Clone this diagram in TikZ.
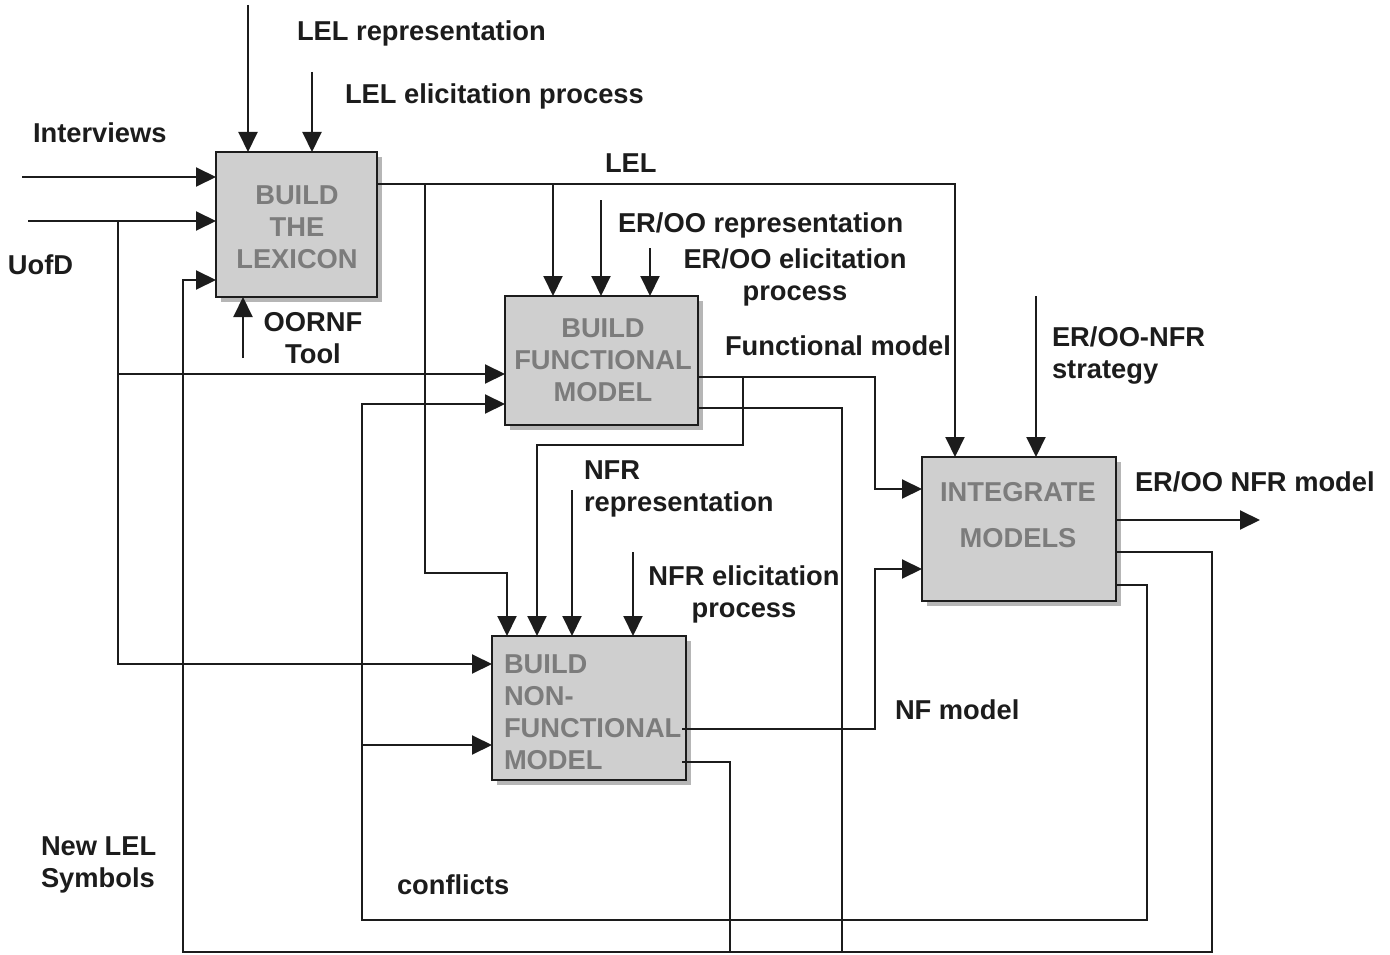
\documentclass[tikz,border=0pt]{standalone}
\usepackage{fontspec}
\setmainfont{Liberation Sans}
\usetikzlibrary{arrows.meta,shadows,calc}
\definecolor{ink}{HTML}{1C1C1C}
\definecolor{boxfill}{HTML}{CFCFCF}
\definecolor{boxtext}{HTML}{7C7C7C}
\definecolor{shade}{HTML}{B6B6B6}
\begin{document}
\begin{tikzpicture}[x=1pt,y=-1pt,
  lbl/.style={inner sep=0pt, outer sep=0pt, text=ink, font=\bfseries\fontsize{27.3}{32}\selectfont},
  boxtxt/.style={inner sep=0pt, outer sep=0pt, text=boxtext, font=\bfseries\fontsize{27.3}{32}\selectfont},
  activity/.style={draw=ink, line width=2.5pt, fill=boxfill, inner sep=0pt, outer sep=0pt,
    drop shadow={shadow xshift=5pt, shadow yshift=-5pt, fill=shade, opacity=1}},
  ln/.style={draw=ink, line width=2pt},
  arr/.style={ln, -{Triangle[length=20pt,width=19pt]}},
]
\useasboundingbox (0,0) rectangle (1390,955);

% activity boxes
\node[activity, minimum width=161pt, minimum height=145pt] (lex) at (296.5,224.5) {};
\node[activity, minimum width=193pt, minimum height=129pt] (fun) at (601.5,360.5) {};
\node[activity, minimum width=194pt, minimum height=144pt] (nfr) at (589,708) {};
\node[activity, minimum width=194pt, minimum height=144pt] (int) at (1019,529) {};

% box captions
\node[boxtxt, align=center, anchor=north] (lexT) at (297,186) {BUILD\\THE\\LEXICON};
\node[boxtxt, align=center, anchor=north] (funT) at (603,319) {BUILD\\FUNCTIONAL\\MODEL};
\node[boxtxt, align=left, anchor=north west] (nfrT) at (504,655) {BUILD\\NON-\\FUNCTIONAL\\MODEL};
\node[boxtxt, align=center, anchor=north, font=\bfseries\fontsize{27.3}{46}\selectfont] (intT) at (1018,482) {INTEGRATE\\MODELS};

% ports on the boxes
\coordinate (lexIn1) at ($(lex.north west)+(0,25)$);
\coordinate (lexIn2) at ($(lex.north west)+(0,69)$);
\coordinate (lexIn3) at ($(lex.north west)+(0,128)$);
\coordinate (lexTop1) at ($(lex.north west)+(32,0)$);
\coordinate (lexTop2) at ($(lex.north west)+(96,0)$);
\coordinate (lexBot) at ($(lex.south west)+(27,0)$);
\coordinate (lexOut) at ($(lex.north east)+(0,32)$);

\coordinate (funTop1) at ($(fun.north west)+(48,0)$);
\coordinate (funTop2) at ($(fun.north west)+(96,0)$);
\coordinate (funTop3) at ($(fun.north west)+(145,0)$);
\coordinate (funIn1) at ($(fun.north west)+(0,78)$);
\coordinate (funIn2) at ($(fun.north west)+(0,108)$);
\coordinate (funOut1) at ($(fun.north east)+(0,81)$);
\coordinate (funOut2) at ($(fun.north east)+(0,112)$);

\coordinate (nfrTop1) at ($(nfr.north west)+(15,0)$);
\coordinate (nfrTop2) at ($(nfr.north west)+(45,0)$);
\coordinate (nfrTop3) at ($(nfr.north west)+(80,0)$);
\coordinate (nfrTop4) at ($(nfr.north west)+(141,0)$);
\coordinate (nfrIn1) at ($(nfr.north west)+(0,28)$);
\coordinate (nfrIn2) at ($(nfr.north west)+(0,109)$);
\coordinate (nfrOut1) at ($(nfr.north east)+(-4,93)$);
\coordinate (nfrOut2) at ($(nfr.north east)+(-4,126)$);

\coordinate (intTop1) at ($(int.north west)+(33,0)$);
\coordinate (intTop2) at ($(int.north west)+(114,0)$);
\coordinate (intIn1) at ($(int.north west)+(0,32)$);
\coordinate (intIn2) at ($(int.north west)+(0,112)$);
\coordinate (intOut1) at ($(int.north east)+(0,63)$);
\coordinate (intOut2) at ($(int.north east)+(0,95)$);
\coordinate (intOut3) at ($(int.north east)+(0,128)$);

% free ends, junctions and bends
\coordinate (interviews) at (22,177);
\coordinate (uofd) at (28,221);
\coordinate (uofdSplit) at (118,221);
\coordinate (lelRep) at (248,5);
\coordinate (lelElic) at (312,72);
\coordinate (oornf) at (243,358);
\coordinate (erooRep) at (601,200);
\coordinate (erooElic) at (650,248);
\coordinate (nfrRep) at (572,490);
\coordinate (nfrElic) at (633,552);
\coordinate (strategy) at (1036,296);
\coordinate (nfrModelEnd) at (1260,520);
\coordinate (lelSplit) at (425,184);
\coordinate (lelBend) at (425,573);
\coordinate (modelX) at (875,0);
\coordinate (fmSplit) at (743,377);
\coordinate (fmBack) at (743,445);
\coordinate (newLelR) at (1212,952);
\coordinate (newLelL) at (183,952);
\coordinate (funDrop) at (842,952);
\coordinate (nfrDrop) at (730,952);
\coordinate (confR) at (1147,920);
\coordinate (confL) at (362,920);

% inputs of BUILD THE LEXICON
\draw[arr] (interviews) -- (lexIn1);
\draw[arr] (uofd) -- (lexIn2);
\draw[arr] (lelRep) -- (lexTop1);
\draw[arr] (lelElic) -- (lexTop2);
\draw[arr] (oornf) -- (lexBot);

% UofD fed to the two model builders
\draw[arr] (uofdSplit) |- (funIn1);
\draw[arr] (uofdSplit) |- (nfrIn1);

% LEL output
\draw[arr] (lexOut) -| (intTop1);
\draw[arr] (lexOut -| funTop1) -- (funTop1);
\draw[arr] (lelSplit) -- (lelBend) -| (nfrTop1);

% controls of the functional builder
\draw[arr] (erooRep) -- (funTop2);
\draw[arr] (erooElic) -- (funTop3);

% functional model
\draw[arr] (funOut1) -- (funOut1 -| modelX) |- (intIn1);
\draw[arr] (fmSplit) -- (fmBack) -| (nfrTop2);

% controls of the non-functional builder
\draw[arr] (nfrRep) -- (nfrTop3);
\draw[arr] (nfrElic) -- (nfrTop4);

% NF model
\draw[arr] (nfrOut1) -- (nfrOut1 -| modelX) |- (intIn2);

% integration strategy and final output
\draw[arr] (strategy) -- (intTop2);
\draw[arr] (intOut1) -- (nfrModelEnd);

% new LEL symbols fed back to the lexicon
\draw[arr] (intOut2) -| (newLelR) -- (newLelL) |- (lexIn3);
\draw[ln] (funOut2) -| (funDrop);
\draw[ln] (nfrOut2) -| (nfrDrop);

% conflicts fed back to the model builders
\draw[arr] (intOut3) -| (confR) -- (confL) |- (funIn2);
\draw[arr] (confL |- nfrIn2) -- (nfrIn2);

% labels
\node[lbl, anchor=base west] (lLelRep) at (297,41) {LEL representation};
\node[lbl, anchor=base west] (lLelElic) at (345,104) {LEL elicitation process};
\node[lbl, anchor=base west] (lInterviews) at (33,143) {Interviews};
\node[lbl, anchor=base west] (lUofd) at (8,274) {UofD};
\node[lbl, align=center, anchor=north] (lOornf) at (313,312) {OORNF\\Tool};
\node[lbl, anchor=base west] (lLel) at (605,172) {LEL};
\node[lbl, anchor=base west] (lErooRep) at (618,233) {ER/OO representation};
\node[lbl, align=center, anchor=north] (lErooElic) at (795,249) {ER/OO elicitation\\process};
\node[lbl, anchor=base west] (lFunModel) at (725,355) {Functional model};
\node[lbl, align=left, anchor=north west] (lStrategy) at (1052,327) {ER/OO-NFR\\strategy};
\node[lbl, anchor=base west] (lNfrModel) at (1135,491) {ER/OO NFR model};
\node[lbl, align=left, anchor=north west] (lNfrRep) at (584,461) {NFR\\representation};
\node[lbl, align=center, anchor=north] (lNfrElic) at (744,566) {NFR elicitation\\process};
\node[lbl, anchor=base west] (lNfModel) at (895,719) {NF model};
\node[lbl, align=left, anchor=north west] (lNewLel) at (41,837) {New LEL\\Symbols};
\node[lbl, anchor=base west] (lConflicts) at (397,894) {conflicts};
\end{tikzpicture}
\end{document}
